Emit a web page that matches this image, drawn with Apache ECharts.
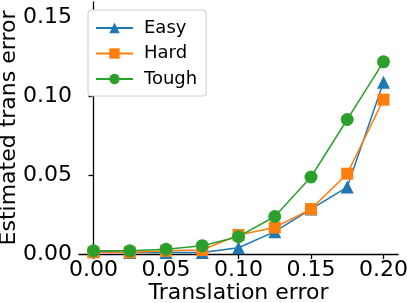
<!DOCTYPE html>
<html><head><meta charset="utf-8">
<script src="https://cdn.jsdelivr.net/npm/echarts@6/dist/echarts.min.js"></script>
<style>html,body{margin:0;padding:0;background:#fff}#c{width:407px;height:303px}</style>
</head><body><div id="c"></div>
<script>
var xValues = [0.0, 0.025, 0.05, 0.075, 0.1, 0.125, 0.15, 0.175, 0.2];
var easy  = [0.002, 0.001, 0.001, 0.001, 0.004, 0.0142, 0.0285, 0.0425, 0.109];
var hard  = [0.001, 0.001, 0.002, 0.0025, 0.0121, 0.0168, 0.0285, 0.051, 0.098];
var tough = [0.002, 0.002, 0.003, 0.0053, 0.011, 0.0238, 0.0489, 0.0854, 0.122];
var xTicks = [0.0, 0.05, 0.1, 0.15, 0.2];
var yTicks = [0.0, 0.05, 0.1, 0.15];
var seriesNames = ['Easy', 'Hard', 'Tough'];

var FONT = 'DejaVu Sans';
function pairs(ys){ return xValues.map(function(x,i){ return [x, ys[i]]; }); }
var colors = ['#1f77b4', '#ff7f0e', '#2ca02c'];
var symbols = ['triangle', 'rect', 'circle'];
var sizes = [13, 12, 13];
var datas = [easy, hard, tough];

var chart = echarts.init(document.getElementById('c'), null, {renderer:'canvas'});
chart.setOption({
  animation: false,
  backgroundColor: '#fff',
  textStyle: {fontFamily: FONT},
  grid: {left: 79, right: 9, top: 2, bottom: 49, containLabel: false, outerBoundsMode: 'none'},
  legend: {
    orient: 'vertical', left: 88, top: 10,
    padding: [9, 9, 8, 7], itemGap: 7.5,
    itemWidth: 37, itemHeight: 13,
    backgroundColor: '#fff', borderColor: '#cccccc', borderWidth: 1, borderRadius: 3,
    textStyle: {fontFamily: FONT, fontSize: 18, color: '#000', padding: [0,0,0,6]},
    data: seriesNames
  },
  xAxis: {
    type: 'value', min: -0.01, max: 0.21,
    name: 'Translation error', nameLocation: 'middle', nameGap: 28, nameMoveOverlap: false,
    nameTextStyle: {fontFamily: FONT, fontSize: 22, color: '#000'},
    axisLine: {show: true, lineStyle: {color: '#000', width: 1.3}},
    axisTick: {show: true, inside: false, length: 5, customValues: xTicks, lineStyle: {color: '#000', width: 1.3}},
    axisLabel: {customValues: xTicks, margin: 5, fontFamily: FONT, fontSize: 22, color: '#000',
      formatter: function(v){ return v.toFixed(2); }},
    splitLine: {show: false}
  },
  yAxis: {
    type: 'value', min: 0, max: 0.16,
    name: 'Estimated trans error', nameLocation: 'middle', nameGap: 59, nameMoveOverlap: false,
    nameTextStyle: {fontFamily: FONT, fontSize: 22, color: '#000'},
    axisLine: {show: true, lineStyle: {color: '#000', width: 1.3}},
    axisTick: {show: true, inside: false, length: 5, customValues: yTicks, lineStyle: {color: '#000', width: 1.3}},
    axisLabel: {customValues: yTicks, margin: 7, fontFamily: FONT, fontSize: 22, color: '#000',
      formatter: function(v){ return v.toFixed(2); }},
    splitLine: {show: false}
  },
  series: seriesNames.map(function(n, i){
    return {
      name: n, type: 'line', data: pairs(datas[i]),
      symbol: symbols[i], symbolSize: sizes[i], showAllSymbol: true,
      lineStyle: {color: colors[i], width: 1.5},
      itemStyle: {color: colors[i]},
      z: 2 + i
    };
  })
});
</script></body></html>
